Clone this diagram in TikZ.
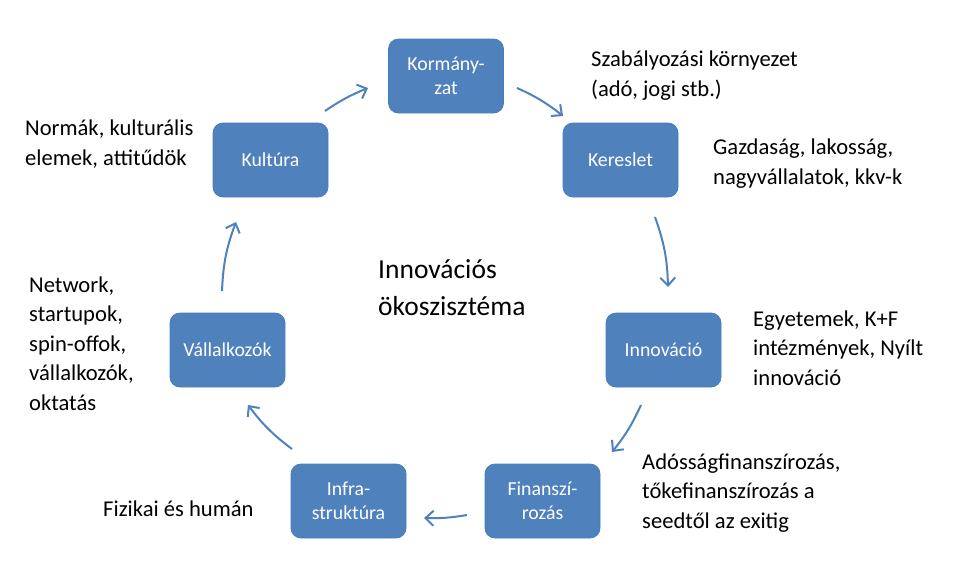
\documentclass[tikz,border=0pt]{standalone}
\usepackage{fontspec}
\setmainfont{Carlito}
\usetikzlibrary{arrows.meta}
\definecolor{boxblue}{HTML}{4F81BD}
\definecolor{boxedge}{HTML}{4A7EBB}
\definecolor{arrblue}{HTML}{4F81BD}
\tikzset{
  box/.style={draw=boxedge, line width=0.8pt, fill=boxblue, rounded corners=10pt,
    minimum width=115pt, minimum height=74pt, inner sep=0pt, align=center,
    text=white, font=\fontsize{19.8}{24}\selectfont},
  lbl/.style={anchor=base west, inner sep=0pt, align=left,
    font=\fontsize{22.6}{29.5}\selectfont},
  big/.style={anchor=base west, inner sep=0pt, align=left,
    font=\fontsize{27.5}{37}\selectfont},
  arr/.style={draw=arrblue, line width=2pt,
    -{Straight Barb[length=8pt,width=15pt,line width=2pt]}}
}
\begin{document}
\begin{tikzpicture}[x=1pt,y=-1pt]
\useasboundingbox (0,0) rectangle (958,576);
\node[box] (korm)  at (446,76)    {Kormány-\\zat};
\node[box] (ker)   at (620.5,160) {Kereslet};
\node[box] (inn)   at (663.5,350) {Innováció};
\node[box] (fin)   at (542.5,501) {Finanszí-\\rozás};
\node[box] (infra) at (348.5,501) {Infra-\\struktúra};
\node[box] (vall)  at (227.5,350) {Vállalkozók};
\node[box] (kult)  at (270.5,160) {Kultúra};

% base anchor = baseline of the last line
\node[lbl] (t1) at (591,96)  {Szabályozási környezet\\(adó, jogi stb.)};
\node[lbl] (t2) at (713,184) {Gazdaság, lakosság,\\nagyvállalatok, kkv-k};
\node[lbl] (t3) at (753,385) {Egyetemek, K+F\\intézmények, Nyílt\\innováció};
\node[lbl] (t4) at (642,528) {Adósságfinanszírozás,\\tőkefinanszírozás a\\seedtől az exitig};
\node[lbl] (t5) at (103,516) {Fizikai és humán};
\node[lbl] (t6) at (29,410)  {Network,\\startupok,\\spin-offok,\\vállalkozók,\\oktatás};
\node[lbl] (t7) at (25,165)  {Normák, kulturális\\elemek, attitűdök};
\node[big] (t8) at (378,315) {Innovációs\\ökoszisztéma};

\draw[arr] ([shift={(54.5,-49)}]kult.center) to[bend left=6] ([shift={(-78,12)}]korm.center);
\draw[arr] ([shift={(71,12)}]korm.center) to[bend left=7] ([shift={(-57.5,-44)}]ker.center);
\draw[arr] ([shift={(34.5,57)}]ker.center) to[bend left=9] ([shift={(4.5,-63)}]inn.center);
\draw[arr] ([shift={(-22.5,55)}]inn.center) to[bend left=7] ([shift={(69.5,-49)}]fin.center);
\draw[arr] ([shift={(-75.5,14)}]fin.center) to[bend left=5.5] ([shift={(75.5,17)}]infra.center);
\draw[arr] ([shift={(-56.5,-52)}]infra.center) to[bend left=8] ([shift={(20.5,55)}]vall.center);
\draw[arr] ([shift={(-5.5,-59)}]vall.center) to[bend left=9] ([shift={(-34.5,62)}]kult.center);
\end{tikzpicture}
\end{document}
